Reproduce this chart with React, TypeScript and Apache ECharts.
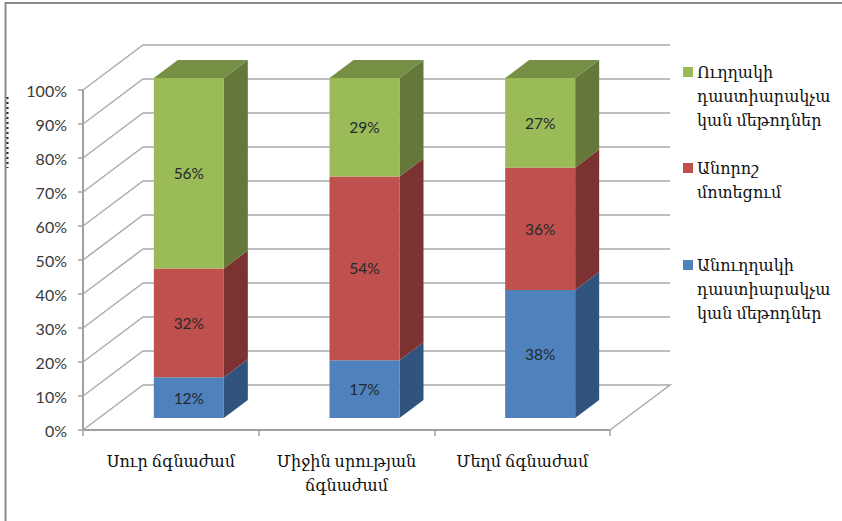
import React, { useEffect, useRef } from "react";
import * as echarts from "echarts";

const categories = ["Սուր ճգնաժամ", "Միջին սրության\nճգնաժամ", "Մեղմ ճգնաժամ"];
const directMethods = [56, 29, 26.6];
const uncertainApproach = [32, 54, 36.4];
const indirectMethods = [12, 17, 38];
const directName = "Ուղղակի\nդաստիարակչա\nկան մեթոդներ";
const uncertainName = "Անորոշ\nմոտեցում";
const indirectName = "Անուղղակի\nդաստիարակչա\nկան մեթոդներ";
const gridTicks = [0, 10, 20, 30, 40, 50, 60, 70, 80, 90, 100];

const ARM_FONT = "'Liberation Serif', 'DejaVu Serif', serif";
const NUM_FONT = "Lato, 'Open Sans', sans-serif";
const AXIS = "#a0a0a0";
const GRIDLINE = "#ababab";
const WALL_DX = 60;
const WALL_DY = -45;
const BAR_W = 70;
const BAR_DX = 24;
const BAR_DY = -18;
const BAR_SHIFT_X = 18;
const BAR_SHIFT_Y = -12;

// Stacked as percentage of each column's total (100% stacked chart).
const stackRows = (own: number[], below: number[][]) =>
  own.map((v, i) => {
    const total = directMethods[i] + uncertainApproach[i] + indirectMethods[i];
    const base = below.reduce((s, arr) => s + arr[i], 0);
    return [i, (base / total) * 100, ((base + v) / total) * 100, Math.round(v)];
  });

const barSeries = (name: string, rows: number[][], front: string, side: string, top: string | null) => ({
  type: "custom" as const,
  name,
  itemStyle: { color: front },
  encode: { x: 0, y: [1, 2] },
  data: rows,
  z: 3,
  renderItem: (_p: any, api: any) => {
    const a = api.coord([api.value(0), api.value(1)]);
    const b = api.coord([api.value(0), api.value(2)]);
    const x0 = a[0] + BAR_SHIFT_X - BAR_W / 2;
    const x1 = x0 + BAR_W;
    const y0 = a[1] + BAR_SHIFT_Y;
    const y1 = b[1] + BAR_SHIFT_Y;
    const children: any[] = [
      {
        type: "polygon",
        shape: { points: [[x1, y0], [x1 + BAR_DX, y0 + BAR_DY], [x1 + BAR_DX, y1 + BAR_DY], [x1, y1]] },
        style: { fill: side },
      },
      { type: "rect", shape: { x: x0, y: y1, width: BAR_W, height: y0 - y1 }, style: { fill: front } },
      {
        type: "text",
        style: {
          x: (x0 + x1) / 2,
          y: (y0 + y1) / 2,
          text: api.value(3) + "%",
          align: "center",
          verticalAlign: "middle",
          fontFamily: NUM_FONT,
          fontSize: 15.5,
          fill: "#1f2a2a",
        },
      },
    ];
    if (top) {
      children.push({
        type: "polygon",
        shape: { points: [[x0, y1], [x0 + BAR_DX, y1 + BAR_DY], [x1 + BAR_DX, y1 + BAR_DY], [x1, y1]] },
        style: { fill: top },
      });
    }
    return { type: "group", children };
  },
});

const wallSeries = {
  type: "custom" as const,
  name: "wall",
  silent: true,
  encode: { y: 0 },
  data: gridTicks.map((t) => [t]),
  z: 1,
  renderItem: (p: any, api: any) => {
    const y = api.coord([0, api.value(0)])[1];
    const x0 = p.coordSys.x;
    const x1 = p.coordSys.x + p.coordSys.width;
    const points = [[x0, y], [x0 + WALL_DX, y + WALL_DY], [x1 + WALL_DX, y + WALL_DY]];
    if (api.value(0) === 0) points.push([x1, y]);
    return { type: "polyline", shape: { points }, style: { stroke: GRIDLINE, lineWidth: 1.5, fill: "none" } };
  },
};

const legendIcon = (h: number) => `path://M0 7H10V17H0Z M0 0H0.01V0.01H0Z M0 ${h}H0.01V${h - 0.01}H0Z`;
const legendAt = (name: string, top: number, h: number) => ({
  data: [name],
  left: 683,
  top,
  padding: 0,
  orient: "vertical" as const,
  selectedMode: false,
  icon: legendIcon(h),
  itemWidth: 10,
  itemHeight: h,
  itemGap: 0,
  textStyle: { fontFamily: ARM_FONT, fontSize: 16, lineHeight: 24, color: "#111", padding: [0, 0, 0, -1] },
});

export default function App() {
  const ref = useRef<HTMLDivElement>(null);
  useEffect(() => {
    document.body.style.margin = "0";
    const chart = echarts.init(ref.current!, null, { renderer: "svg" });
    chart.setOption({
      animation: false,
      backgroundColor: "#ffffff",
      grid: { left: 83, right: 232, top: 90, bottom: 91 },
      legend: [legendAt(directName, 60, 72), legendAt(uncertainName, 156, 48), legendAt(indirectName, 253, 72)],
      xAxis: {
        type: "category",
        data: categories,
        axisLine: { lineStyle: { color: AXIS, width: 2 } },
        axisTick: { show: true, interval: 0, alignWithLabel: false, length: 6, lineStyle: { color: AXIS, width: 1.5 } },
        axisLabel: { interval: 0, margin: 19, hideOverlap: false, fontFamily: ARM_FONT, fontSize: 16, lineHeight: 24, color: "#111" },
      },
      yAxis: {
        type: "value",
        min: 0,
        max: 100,
        interval: 10,
        splitLine: { show: false },
        axisLine: { show: true, lineStyle: { color: AXIS, width: 2 } },
        axisTick: { show: true, length: 5, lineStyle: { color: AXIS, width: 1.5 } },
        axisLabel: { margin: 16, formatter: "{value}%", fontFamily: NUM_FONT, fontSize: 16, color: "#3a3a3a" },
      },
      graphic: [
        { type: "polyline", silent: true, shape: { points: [[5.5, 521], [5.5, 3], [842, 3]] }, style: { stroke: "#8c8c8c", lineWidth: 2, fill: "none" } },
        { type: "line", silent: true, shape: { x1: 7.5, y1: 97, x2: 7.5, y2: 168 }, style: { stroke: "#222", lineWidth: 2, lineDash: [2, 3] } },
      ],
      series: [
        wallSeries,
        barSeries(indirectName, stackRows(indirectMethods, []), "#4f81bd", "#31547f", null),
        barSeries(uncertainName, stackRows(uncertainApproach, [indirectMethods]), "#c0504d", "#7b3230", null),
        barSeries(directName, stackRows(directMethods, [indirectMethods, uncertainApproach]), "#9bbb59", "#64783a", "#778f45"),
      ],
    });
    return () => chart.dispose();
  }, []);
  return <div ref={ref} style={{ width: 842, height: 521 }} />;
}
